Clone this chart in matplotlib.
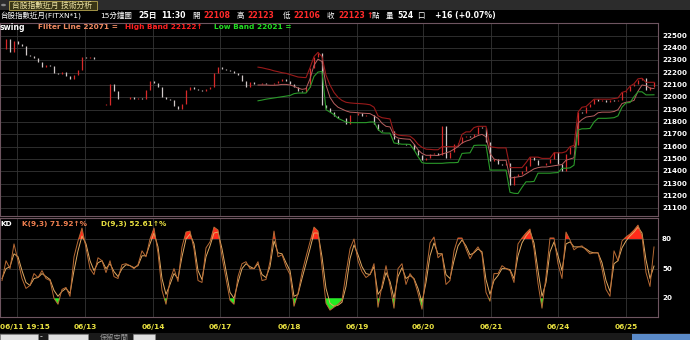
import numpy as np
import matplotlib
matplotlib.use('Agg')
import matplotlib.pyplot as plt
from matplotlib.patches import Rectangle

plt.rcParams['font.family'] = ['DejaVu Sans', 'Noto Sans CJK TC']

nan = np.nan

# ---------------- data (15-min bars, resampled) ----------------
close = [
    22390, 22470, 22370, 22460, 22430, 22420, 22345, 22335, 22320, 22290,
    22245, 22265, 22255, 22200, 22190, 22205, 22175, 22150, 22180, 22225,
    22330, 22320, 22325, 22310, 22315, nan, 21940, 22110, 22050, 21985,
    21990, 21985, 22000, 21985, 21995, 21990, 22060, 22130, 22120, 22085,
    22000, 21990, 21975, 21930, 21905, 21950, 22060, 22080, 22065, 22060,
    22055, 22065, 22085, 22200, 22250, 22230, 22220, 22210, 22195, 22180,
    22130, 22080, 22125, 22110, 22105, 22115, 22110, 22105, 22115, 22135,
    22150, 22130, 22110, 22080, 22050, 22045, 22080, 22240, 22330, 22360,
    21940, 21915, 21880, 21850, 21830, 21835, 21780, 21860, 21855, 21870,
    21845, 21860, 21855, 21780, 21735, 21730, 21725, 21730, 21660, 21625,
    21620, 21615, 21625, 21570, 21530, 21495, 21505, 21540, 21545, 21535,
    21770, 21510, 21560, 21620, 21630, 21680, 21690, 21680, 21700, 21760,
    21755, 21640, 21480, 21500, 21460, 21455, 21465, 21290, 21360, 21380,
    21405, 21440, 21515, 21490, 21455, 21450, 21465, 21500, 21555, 21460,
    21400, 21540, 21600, 21610, 21880, 21870, 21920, 21945, 21985, 21970,
    21975, 21965, 21975, 21970, 21980, 22040, 22050, 22090, 22110, 22140,
    22155, 22060, 22080, 22123,
]

band_lead = [nan] * 64
high_band = band_lead + [
    22245, 22240, 22232, 22225, 22215, 22208, 22200, 22195, 22185, 22175,
    22165, 22162, 22160, 22240, 22330, 22365, 22330, 22180, 22100, 22040,
    22000, 21975, 21960, 21955, 21952, 21950, 21948, 21945, 21940, 21920,
    21850, 21835, 21830, 21825, 21710, 21695, 21690, 21688, 21685, 21660,
    21620, 21595, 21580, 21578, 21575, 21575, 21600, 21600, 21600, 21600,
    21605, 21700, 21720, 21720, 21755, 21765, 21765, 21765, 21600, 21595,
    21590, 21590, 21590, 21430, 21430, 21430, 21430, 21470, 21515, 21515,
    21515, 21505, 21505, 21505, 21550, 21550, 21550, 21560, 21600, 21610,
    21880, 21920, 21925, 21955, 21985, 21985, 21985, 21985, 21985, 21990,
    21995, 22040, 22050, 22090, 22110, 22150, 22155, 22122, 22122, 22122,
]
filter_line = band_lead + [
    22100, 22100, 22100, 22098, 22098, 22100, 22105, 22105, 22100, 22090,
    22075, 22065, 22070, 22150, 22260, 22310, 22290, 22100, 22000, 21950,
    21920, 21905, 21890, 21880, 21878, 21875, 21872, 21870, 21868, 21850,
    21830, 21790, 21765, 21760, 21690, 21670, 21665, 21662, 21660, 21620,
    21575, 21545, 21530, 21530, 21530, 21528, 21540, 21550, 21560, 21580,
    21600, 21630, 21645, 21655, 21675, 21690, 21700, 21680, 21545, 21500,
    21490, 21490, 21490, 21345, 21350, 21355, 21360, 21380, 21400, 21420,
    21430, 21435, 21435, 21440, 21445, 21450, 21455, 21490, 21500, 21510,
    21790, 21820, 21840, 21845, 21850, 21875, 21880, 21880, 21880, 21885,
    21900, 21950, 21960, 21965, 21975, 22050, 22100, 22095, 22075, 22071,
]
low_band = band_lead + [
    21972, 21978, 21985, 21990, 21995, 22000, 22005, 22010, 22015, 22030,
    22035, 22035, 22035, 22080, 22170, 22205, 22210, 21900, 21880, 21860,
    21830, 21815, 21800, 21795, 21795, 21795, 21795, 21795, 21800, 21800,
    21740, 21712, 21710, 21710, 21630, 21625, 21620, 21620, 21618, 21575,
    21520, 21470, 21465, 21465, 21465, 21465, 21465, 21468, 21470, 21470,
    21472, 21545, 21548, 21550, 21610, 21612, 21612, 21612, 21410, 21410,
    21410, 21410, 21410, 21230, 21222, 21220, 21270, 21315, 21315, 21318,
    21385, 21385, 21385, 21385, 21388, 21390, 21425, 21425, 21428, 21450,
    21735, 21745, 21745, 21748, 21800, 21830, 21830, 21830, 21832, 21835,
    21850, 21920, 21955, 21958, 22005, 22045, 22045, 22020, 22020, 22021,
]

k_values = [
    38, 58, 50, 75, 58, 40, 30, 33, 45, 41,
    48, 40, 38, 20, 14, 29, 31, 22, 62, 78,
    91, 71, 50, 44, 61, 58, 46, 58, 42, 40,
    54, 55, 53, 50, 54, 68, 62, 80, 91, 66,
    28, 14, 38, 50, 37, 72, 87, 88, 70, 38,
    36, 71, 77, 92, 89, 62, 40, 18, 14, 42,
    55, 57, 50, 50, 57, 38, 39, 57, 88, 62,
    64, 52, 44, 12, 25, 46, 62, 77, 92, 88,
    52, 15, 8, 11, 14, 18, 45, 70, 80, 58,
    47, 41, 44, 55, 11, 33, 53, 33, 10, 50,
    55, 34, 45, 39, 25, 9, 45, 76, 82, 61,
    65, 34, 38, 68, 81, 81, 70, 60, 67, 72,
    65, 26, 17, 45, 45, 53, 50, 48, 36, 75,
    81, 86, 90, 70, 35, 10, 42, 81, 81, 55,
    40, 87, 79, 69, 72, 73, 69, 65, 66, 66,
    50, 29, 22, 68, 58, 78, 82, 85, 89, 94,
    83, 46, 32, 71.92,
]
d_values = [
    40, 50, 52, 65, 62, 48, 36, 33, 40, 41,
    45, 42, 39, 28, 22, 27, 30, 25, 48, 68,
    83, 75, 58, 48, 56, 58, 50, 55, 47, 42,
    50, 54, 53, 51, 53, 63, 63, 75, 86, 72,
    40, 24, 34, 45, 40, 62, 80, 85, 75, 48,
    39, 62, 73, 86, 87, 70, 48, 26, 20, 36,
    50, 55, 52, 50, 55, 44, 41, 52, 78, 66,
    65, 56, 48, 22, 24, 40, 55, 70, 86, 86,
    62, 30, 15, 12, 13, 16, 32, 60, 74, 64,
    52, 45, 44, 52, 24, 30, 46, 37, 20, 42,
    51, 40, 43, 40, 30, 16, 36, 63, 76, 65,
    65, 44, 40, 58, 73, 79, 73, 64, 66, 70,
    67, 39, 24, 38, 43, 50, 50, 49, 40, 63,
    76, 83, 88, 76, 48, 22, 36, 67, 77, 63,
    48, 75, 77, 72, 72, 72, 70, 67, 66, 66,
    56, 38, 27, 55, 58, 71, 78, 83, 87, 92,
    86, 59, 40, 52.61,
]

day_names = ['06/12', '06/13', '06/14', '06/17', '06/18', '06/19', '06/20', '06/21', '06/24', '06/25']
day_start_bar = [3.75, 20.75, 37.75, 54.5, 71.75, 88.75, 105.25, 122.25, 139, 156]
first_label = '06/11 19:15'
price_ticks = [22500, 22400, 22300, 22200, 22100, 22000, 21900, 21800, 21700, 21600, 21500, 21400, 21300, 21200, 21100]
kd_ticks = [80, 50, 20]

# ---------------- figure ----------------
W, H = 690, 340
fig = plt.figure(figsize=(W / 100, H / 100), dpi=100, facecolor='black')

def fx(px):
    return px / W

def fy(py):
    return 1 - py / H

def txt(x, y, s, color='white', size=5.5, weight='bold', ha='left', **kw):
    fig.text(fx(x), fy(y), s, color=color, fontsize=size, fontweight=weight,
             ha=ha, va='center', **kw)

BORDER = '#6e5560'
GRID = '#353535'

c = np.array(close, dtype=float)
n = len(c)
x = np.arange(n)

# price panel
axp = fig.add_axes([0, fy(216), fx(658), (216 - 23) / H])
axp.set_facecolor('black')
o = np.r_[nan, c[:-1]]
o = np.where(np.isnan(o), c, o)
up = c >= o
lo = np.minimum(o, c)
hi = np.maximum(o, c)
hi = np.where(hi - lo < 4, lo + 4, hi)
axp.vlines(x[up], lo[up], hi[up], colors='#d82a2a', linewidth=0.9)
axp.vlines(x[~up], lo[~up], hi[~up], colors='#d0c8c8', linewidth=0.9)
axp.plot(x, high_band, color='#9a1a1a', lw=0.8)
axp.plot(x, filter_line, color='#b86060', lw=0.7)
axp.plot(x, low_band, color='#2a9a2a', lw=0.8)
axp.set_xlim(-0.5, 164)
axp.set_ylim(21037.7, 22603)
axp.set_yticks(price_ticks)
axp.set_xticks(day_start_bar)
axp.grid(True, color=GRID, lw=0.6)
axp.set_axisbelow(True)
axp.tick_params(length=0, labelleft=False, labelbottom=False)
for s in axp.spines.values():
    s.set_color(BORDER)
    s.set_linewidth(0.8)

for p in price_ticks:
    yy = 35.7 + (22500 - p) * 0.1233
    txt(662, yy, f'{p}', size=5.1)

# KD panel
axk = fig.add_axes([0, fy(317), fx(658), (317 - 218) / H])
axk.set_facecolor('black')
k = np.array(k_values, dtype=float)
d = np.array(d_values, dtype=float)
axk.fill_between(x, k, 80, where=k > 80, interpolate=True, color='#ff2a1a', lw=0)
axk.fill_between(x, k, 20, where=k < 20, interpolate=True, color='#22ee22', lw=0)
axk.plot(x, d, color='#e0aa62', lw=0.7)
axk.plot(x, k, color='#b86a34', lw=0.7)
axk.set_xlim(-0.5, 164)
axk.set_ylim(1.1, 101.2)
axk.set_yticks(kd_ticks)
axk.set_xticks(day_start_bar)
axk.grid(True, color=GRID, lw=0.6)
axk.set_axisbelow(True)
axk.tick_params(length=0, labelleft=False, labelbottom=False)
for s in axk.spines.values():
    s.set_color(BORDER)
    s.set_linewidth(0.8)
for v in kd_ticks:
    yy = 239 + (80 - v) * 0.99
    txt(662, yy, f'{v}', size=5.1)

# date labels
YELLOW = '#e8e040'
txt(0, 327, first_label, color=YELLOW, size=5.3)
for name, b in list(zip(day_names, day_start_bar))[1:]:
    xp = 2 + 4 * b
    txt(xp, 327, name, color=YELLOW, size=5.3, ha='center')

# ---------------- header ----------------
fig.patches.append(Rectangle((0, fy(9.5)), 1, 9.5 / H, transform=fig.transFigure,
                             facecolor='#2c2c2c', edgecolor='none'))
fig.patches.append(Rectangle((fx(9), fy(9.5)), fx(88), 8.5 / H, transform=fig.transFigure,
                             facecolor='#3a3616', edgecolor='#b8a850', lw=0.6))
fig.patches.append(plt.Circle((fx(3.5), fy(5)), 2.5 / W, transform=fig.transFigure,
                              facecolor='#888888', edgecolor='none'))
txt(12, 5, '台股指數近月 技術分析', color='#f0e6a8', size=5.6, weight='normal')

RED = '#ff2a2a'
txt(0, 15.5, '台股指數近月(FITXN*1)', size=5.4, weight='normal')
txt(100, 15.5, '15分鐘圖', size=5.4, weight='normal')
txt(138, 15.5, '25日', size=5.6)
txt(161, 15.5, '11:30', size=5.6)
txt(192, 15.5, '開', size=5.4, weight='normal')
txt(203, 15.5, '22108', color=RED, size=5.6)
txt(237, 15.5, '高', size=5.4, weight='normal')
txt(247, 15.5, '22123', color=RED, size=5.6)
txt(283, 15.5, '低', size=5.4, weight='normal')
txt(293, 15.5, '22106', color=RED, size=5.6)
txt(327, 15.5, '收', size=5.4, weight='normal')
txt(338, 15.5, '22123', color=RED, size=5.6)
txt(366, 15.5, '↑', color=RED, size=5.6)
txt(372, 15.5, '點', size=5.4, weight='normal')
txt(386, 15.5, '量', size=5.4, weight='normal')
txt(397, 15.5, '524', size=5.6)
txt(417, 15.5, '口', size=5.4, weight='normal')
txt(435, 15.5, '+16 (+0.07%)', size=5.6)

txt(0, 27, 'swing', size=5.6)
txt(38, 27, 'Filter Line 22071 =', color='#f08a62', size=5.3)
txt(125, 27, 'High Band 22122↑', color='#ff2020', size=5.3)
txt(214, 27, 'Low Band 22021 =', color='#22dd22', size=5.3)

txt(0, 224, 'KD', size=5.3)
txt(22, 224, 'K(9,3) 71.92↑%', color='#f08050', size=5.3)
txt(101, 224, 'D(9,3) 52.61↑%', color='#e8e040', size=5.3)

# bottom control strip
fig.patches.append(Rectangle((0, 0), 1, 7 / H, transform=fig.transFigure,
                             facecolor='#1a1a1a', edgecolor='none'))
for x0, w in [(0, 38), (48, 40)]:
    fig.patches.append(Rectangle((fx(x0), 0), fx(w), 6 / H, transform=fig.transFigure,
                                 facecolor='#e0e0e0', edgecolor='#888888', lw=0.4))
txt(40, 337, '-', size=5, color='#bbbbbb')
txt(100, 337, '保留空間', size=5.2, weight='normal', color='#9a9a9a')
fig.patches.append(Rectangle((fx(133), 0), fx(22), 6 / H, transform=fig.transFigure,
                             facecolor='#e0e0e0', edgecolor='#888888', lw=0.4))
fig.patches.append(Rectangle((fx(632), 0), fx(58), 6 / H, transform=fig.transFigure,
                             facecolor='#5a8ac8', edgecolor='none'))

fig.savefig('out.png', dpi=100, facecolor='black')
